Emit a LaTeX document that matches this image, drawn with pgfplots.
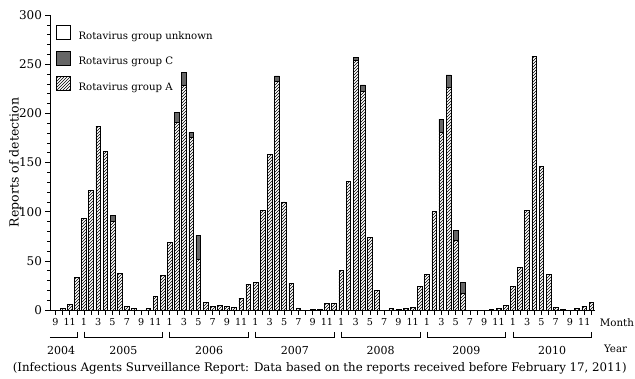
\documentclass[border=0pt]{standalone}
\usepackage{fontspec}
\setmainfont{DejaVu Serif}
\usepackage{pgfplots}
\pgfplotsset{compat=1.18}
\usepackage{pgfplotstable}
\usetikzlibrary{patterns}

% Monthly rotavirus detections, Sep 2004 (idx 0) to Dec 2010 (idx 75)
% A = group A, C = group C, U = group unknown
\pgfplotstableread{
idx A C U
0 0 0 0
1 2 0 0
2 6 0 0
3 33 0 0
4 93 0 0
5 122 0 0
6 187 0 0
7 161 0 0
8 90 6 0
9 37 0 0
10 4 0 0
11 2 0 0
12 0 0 0
13 2 0 0
14 14 0 0
15 35 0 0
16 69 0 0
17 191 10 0
18 229 13 0
19 176 5 0
20 52 24 0
21 8 0 0
22 4 0 0
23 5 0 0
24 4 0 0
25 3 0 0
26 12 0 0
27 26 0 0
28 28 0 0
29 101 0 0
30 158 0 0
31 233 5 0
32 110 0 0
33 27 0 0
34 2 0 0
35 0 0 0
36 1 0 0
37 1 0 0
38 7 0 0
39 7 0 0
40 40 0 0
41 131 0 0
42 254 3 0
43 222 7 0
44 74 0 0
45 20 0 0
46 0 0 0
47 2 0 0
48 1 0 0
49 2 0 0
50 3 0 0
51 24 0 0
52 36 0 0
53 100 0 0
54 181 13 0
55 226 13 0
56 71 10 0
57 17 11 0
58 0 0 0
59 0 0 0
60 0 0 0
61 1 0 0
62 2 0 0
63 5 0 0
64 24 0 0
65 43 0 0
66 101 0 0
67 258 0 0
68 146 0 0
69 36 0 0
70 3 0 0
71 1 0 0
72 0 0 0
73 2 0 0
74 4 0 0
75 8 0 0
}\rotadata

\pgfplotsset{
  boxlegend/.style={legend image code/.code={%
    \draw[##1,line width=0.6pt] (0pt,-3pt) rectangle (14pt,11pt);}},
}
\newcommand{\lab}{\fontsize{11}{13}\selectfont}

\begin{document}
\begin{tikzpicture}
% fixed frame around the axis: 50pt left, 40pt right, 15pt above, 68pt below
\useasboundingbox (-50pt,-68pt) rectangle (585pt,310pt);
\begin{axis}[
  width=545pt, height=295pt, scale only axis,
  ybar stacked, bar width=0.66,
  xmin=-0.75, xmax=75.5, ymin=0, ymax=300,
  axis lines=left, axis line style={-, line width=0.8pt},
  tick align=outside,
  xtick={0,...,75},
  xticklabels={9,,11,,
    1,,3,,5,,7,,9,,11,,
    1,,3,,5,,7,,9,,11,,
    1,,3,,5,,7,,9,,11,,
    1,,3,,5,,7,,9,,11,,
    1,,3,,5,,7,,9,,11,,
    1,,3,,5,,7,,9,,11,},
  ytick={0,50,...,300}, minor y tick num=4,
  major tick length=4.5pt, minor tick length=2.5pt,
  tick style={black, line width=0.6pt},
  /pgf/number format/assume math mode=true,
  xticklabel style={font=\fontsize{9.6}{11}\selectfont},
  yticklabel style={font=\fontsize{12}{14}\selectfont},
  ylabel={Reports of detection},
  ylabel style={font=\fontsize{12.5}{14}\selectfont, at={(axis description cs:-0.064,0.5)}, anchor=center},
  clip=false,
  legend style={at={(axis description cs:0.005,0.975)}, anchor=north west, draw=none, fill=none,
    font=\fontsize{10.2}{12}\selectfont, row sep=8pt,
    /tikz/every odd column/.append style={column sep=6pt}},
  legend cell align=left,
]
\addplot[forget plot, draw=black, line width=0.6pt, pattern=north east lines] table[x=idx,y=A] {\rotadata};
\addplot[forget plot, draw=black, line width=0.6pt, fill=black!60] table[x=idx,y=C] {\rotadata};
\addplot[forget plot, draw=black, line width=0.6pt, fill=white] table[x=idx,y=U] {\rotadata};

\addlegendimage{boxlegend, draw=black, fill=white}
\addlegendentry{Rotavirus group unknown}
\addlegendimage{boxlegend, draw=black, fill=black!60}
\addlegendentry{Rotavirus group C}
\addlegendimage{boxlegend, draw=black, pattern=north east lines}
\addlegendentry{Rotavirus group A}

% year brackets beneath the month labels
\draw[line width=0.6pt] (axis cs:-0.75,-28) -- (axis cs:3,-28) -- (axis cs:3,-22);
\draw[line width=0.6pt] (axis cs:4,-22) -- (axis cs:4,-28) -- (axis cs:15,-28) -- (axis cs:15,-22);
\draw[line width=0.6pt] (axis cs:16,-22) -- (axis cs:16,-28) -- (axis cs:27,-28) -- (axis cs:27,-22);
\draw[line width=0.6pt] (axis cs:28,-22) -- (axis cs:28,-28) -- (axis cs:39,-28) -- (axis cs:39,-22);
\draw[line width=0.6pt] (axis cs:40,-22) -- (axis cs:40,-28) -- (axis cs:51,-28) -- (axis cs:51,-22);
\draw[line width=0.6pt] (axis cs:52,-22) -- (axis cs:52,-28) -- (axis cs:63,-28) -- (axis cs:63,-22);
\draw[line width=0.6pt] (axis cs:64,-22) -- (axis cs:64,-28) -- (axis cs:75,-28) -- (axis cs:75,-22);

\node[font=\lab] at (axis cs:0.8,-41.5) {2004};
\node[font=\lab] at (axis cs:9.5,-41.5) {2005};
\node[font=\lab] at (axis cs:21.5,-41.5) {2006};
\node[font=\lab] at (axis cs:33.5,-41.5) {2007};
\node[font=\lab] at (axis cs:45.5,-41.5) {2008};
\node[font=\lab] at (axis cs:57.5,-41.5) {2009};
\node[font=\lab] at (axis cs:69.5,-41.5) {2010};
\node[font=\fontsize{10.3}{12}\selectfont, anchor=west, inner sep=1pt] at (axis cs:76.0,-13) {Month};
\node[font=\fontsize{10.3}{12}\selectfont, anchor=west, inner sep=1pt] at (axis cs:76.6,-39) {Year};
\node[font=\fontsize{11.8}{14}\selectfont] at (axis cs:37,-59.5) {(Infectious Agents Surveillance Report: Data based on the reports received before February 17, 2011)};
\end{axis}
\end{tikzpicture}
\end{document}
